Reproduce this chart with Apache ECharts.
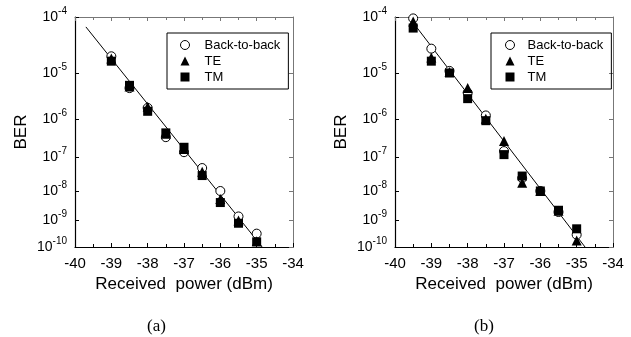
<!DOCTYPE html>
<html>
<head>
<meta charset="utf-8">
<script src="https://cdn.jsdelivr.net/npm/echarts@6/dist/echarts.min.js"></script>
<style>
html,body{margin:0;padding:0;background:#fff;}
#chart{width:631px;height:337px;}
</style>
</head>
<body>
<div id="chart"></div>
<script>
// ---- data (BER vs received power in dBm) ----
const yTickExponents = [-4, -5, -6, -7, -8, -9, -10];
const xMin = -40, xMax = -34;

// panel (a)
const powerA = [-39, -38.5, -38, -37.5, -37, -36.5, -36, -35.5, -35];
const b2bA = [2.1e-5, 4.9e-6, 1.8e-6, 3.5e-7, 1.4e-7, 5.0e-8, 1.0e-8, 1.4e-9, 3.3e-10];
const teA  = [1.9e-5, 5.3e-6, 1.9e-6, 4.3e-7, 1.7e-7, 3.9e-8, 5.5e-9, 1.0e-9, 1.7e-10];
const tmA  = [1.7e-5, 5.6e-6, 1.5e-6, 4.5e-7, 1.9e-7, 3.0e-8, 4.2e-9, 8.0e-10, 1.6e-10];
const fitPowerA = [-39.7, -34.85];
const fitBerA = [6.9e-5, 1e-10];

// panel (b)
const powerB = [-39.5, -39, -38.5, -38, -37.5, -37, -36.5, -36, -35.5, -35];
const b2bB = [9.5e-5, 2.9e-5, 1.1e-5, 3.9e-6, 1.2e-6, 1.5e-7, 2.5e-8, 1.0e-8, 2.0e-9, 3.0e-10];
const teB  = [8.5e-5, 2.0e-5, 1.05e-5, 4.9e-6, 1.0e-6, 2.8e-7, 1.8e-8, 1.0e-8, 2.2e-9, 1.8e-10];
const tmB  = [6.6e-5, 1.7e-5, 1.0e-5, 2.9e-6, 9.0e-7, 1.2e-7, 2.9e-8, 1.0e-8, 2.3e-9, 5.0e-10];
const fitPowerB = [-39.62, -34.77];
const fitBerB = [1e-4, 1e-10];

const seriesNames = ['Back-to-back', 'TE', 'TM'];
const panelLabels = ['(a)', '(b)'];

// BER probability scale: log10(-log10(BER))
function tr(ber){ return Math.log10(-Math.log10(ber)); }
function pairs(xs, bers){ return xs.map((x,i)=>[x, tr(bers[i])]); }

const yTickVals = yTickExponents.map(e => tr(Math.pow(10, e)));
const yMin = tr(1e-4), yMax = tr(1e-10);

const FONT = '"Liberation Sans", Arial, sans-serif';
const grids = [
  {left: 75, top: 17, width: 218, height: 230},
  {left: 395, top: 17, width: 218, height: 230}
];

function xAxisMain(gi){
  return {
    gridIndex: gi, type: 'value', min: xMin, max: xMax, interval: 1,
    name: 'Received  power (dBm)', nameLocation: 'middle', nameGap: 28,
    nameTextStyle: {fontFamily: FONT, fontSize: 17, color: '#000'},
    axisLine: {onZero: false, lineStyle: {color: '#000', width: 1.2}},
    axisTick: {inside: true, length: 4, lineStyle: {color: '#000'}},
    minorTick: {show: true, splitNumber: 2, length: 3, lineStyle: {color: '#000'}},
    axisLabel: {fontFamily: FONT, fontSize: 15, color: '#000', margin: 9},
    splitLine: {show: false}
  };
}
function xAxisTop(gi){
  return {
    gridIndex: gi, type: 'value', min: xMin, max: xMax, interval: 1, position: 'top',
    axisLine: {onZero: false, lineStyle: {color: '#777', width: 1}},
    axisTick: {inside: true, length: 4, lineStyle: {color: '#777'}},
    minorTick: {show: true, splitNumber: 2, length: 3, lineStyle: {color: '#777'}},
    axisLabel: {show: false}, splitLine: {show: false}
  };
}
function yAxisMain(gi){
  return {
    gridIndex: gi, type: 'value', inverse: true, min: yMin, max: yMax,
    name: 'BER', nameLocation: 'middle', nameGap: 45, nameRotate: 90,
    nameTextStyle: {fontFamily: FONT, fontSize: 17, color: '#000'},
    axisLine: {onZero: false, lineStyle: {color: '#000', width: 1.2}},
    axisTick: {inside: true, length: 4, customValues: yTickVals, lineStyle: {color: '#000'}},
    axisLabel: {
      customValues: yTickVals, margin: 8,
      formatter: function(v){
        const e = Math.round(Math.pow(10, v));
        return '{b|10}{s|-' + e + '}';
      },
      rich: {
        b: {fontFamily: FONT, fontSize: 14, color: '#000', lineHeight: 22},
        s: {fontFamily: FONT, fontSize: 10, color: '#000', lineHeight: 10, verticalAlign: 'top'}
      }
    },
    splitLine: {show: false}
  };
}
function yAxisRight(gi){
  return {
    gridIndex: gi, type: 'value', inverse: true, min: yMin, max: yMax, position: 'right',
    axisLine: {onZero: false, lineStyle: {color: '#777', width: 1}},
    axisTick: {inside: true, length: 4, customValues: yTickVals, lineStyle: {color: '#777'}},
    axisLabel: {show: false}, splitLine: {show: false}
  };
}

function panelSeries(gi, xs, b2b, te, tm, fx, fb){
  const xi = gi*2, yi = gi*2;
  return [
    {type: 'line', xAxisIndex: xi, yAxisIndex: yi, data: pairs(fx, fb), showSymbol: false,
     lineStyle: {color: '#000', width: 1}, silent: true, z: 1, name: 'fit' + gi},
    {type: 'scatter', name: seriesNames[0], xAxisIndex: xi, yAxisIndex: yi, data: pairs(xs, b2b),
     symbol: 'circle', symbolSize: 9, itemStyle: {color: '#fff', borderColor: '#000', borderWidth: 1, opacity: 1}, z: 2},
    {type: 'scatter', name: seriesNames[1], xAxisIndex: xi, yAxisIndex: yi, data: pairs(xs, te),
     symbol: 'triangle', symbolSize: 10, itemStyle: {color: '#000', opacity: 1}, z: 3},
    {type: 'scatter', name: seriesNames[2], xAxisIndex: xi, yAxisIndex: yi, data: pairs(xs, tm),
     symbol: 'rect', symbolSize: 9, itemStyle: {color: '#000', opacity: 1}, z: 4}
  ];
}

function legendAt(left, padLeft, textPad, width){
  return {
    left: left, top: 33, orient: 'vertical', width: width,
    data: [
      {name: seriesNames[0], icon: 'circle', itemStyle: {color: '#fff', borderColor: '#000', borderWidth: 1, opacity: 1}},
      {name: seriesNames[1], icon: 'triangle', itemStyle: {color: '#000', borderWidth: 0, opacity: 1}},
      {name: seriesNames[2], icon: 'rect', itemStyle: {color: '#000', borderWidth: 0, opacity: 1}}
    ],
    itemWidth: 9, itemHeight: 9, itemGap: 0,
    padding: [4, 8, 4, padLeft],
    borderColor: '#000', borderWidth: 1,
    selectedMode: false,
    textStyle: {fontFamily: FONT, fontSize: 13, color: '#000', lineHeight: 16, padding: [0, 0, 0, textPad]}
  };
}

const chart = echarts.init(document.getElementById('chart'), null, {renderer: 'canvas'});
chart.setOption({
  animation: false,
  backgroundColor: '#fff',
  grid: grids,
  title: [
    {text: panelLabels[0], left: 142, top: 313, textStyle: {fontFamily: '"Liberation Serif", serif', fontSize: 17, fontWeight: 'normal', color: '#000'}},
    {text: panelLabels[1], left: 469, top: 313, textStyle: {fontFamily: '"Liberation Serif", serif', fontSize: 17, fontWeight: 'normal', color: '#000'}}
  ],
  legend: [legendAt(167, 13, 10, 125), legendAt(491, 14, 8, 118)],
  xAxis: [xAxisMain(0), xAxisTop(0), xAxisMain(1), xAxisTop(1)],
  yAxis: [yAxisMain(0), yAxisRight(0), yAxisMain(1), yAxisRight(1)],
  series: [].concat(
    panelSeries(0, powerA, b2bA, teA, tmA, fitPowerA, fitBerA),
    panelSeries(1, powerB, b2bB, teB, tmB, fitPowerB, fitBerB)
  )
});
</script>
</body>
</html>
